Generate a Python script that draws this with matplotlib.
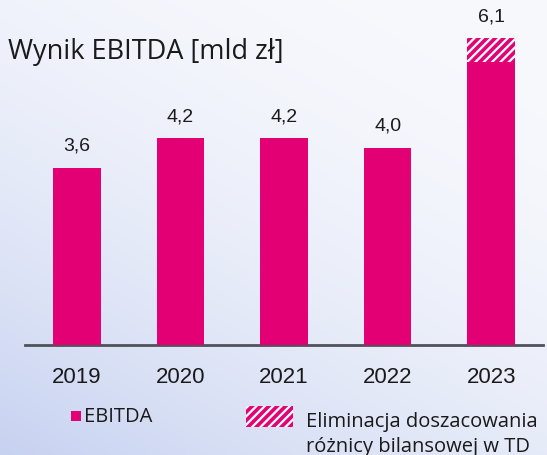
import numpy as np
import matplotlib
matplotlib.use("Agg")
import matplotlib.pyplot as plt
from matplotlib.patches import Rectangle

# Data
years = ["2019", "2020", "2021", "2022", "2023"]
ebitda = [3.6, 4.2, 4.2, 4.0, 5.75]
elimination = [0.0, 0.0, 0.0, 0.0, 0.48]
value_labels = ["3,6", "4,2", "4,2", "4,0", "6,1"]

MAGENTA = "#e20074"
AXIS_GREY = "#50515a"

plt.rcParams.update({
    "font.family": ["Liberation Sans", "DejaVu Sans"],
    "hatch.linewidth": 2.6,
})

fig = plt.figure(figsize=(5.47, 4.56), dpi=100)

# background gradient: near white at top right, light blue at bottom left
bg = fig.add_axes([0, 0, 1, 1], zorder=-10)
h, w = 228, 274
yy, xx = np.mgrid[0:h, 0:w]
t = np.clip((yy / (h - 1)) * 0.6 + (1 - xx / (w - 1)) * 0.4, 0, 1) ** 2
top = np.array([248, 249, 253]) / 255
bottom = np.array([199, 210, 241]) / 255
img = top[None, None, :] * (1 - t[..., None]) + bottom[None, None, :] * t[..., None]
bg.imshow(img, aspect="auto", extent=[0, 1, 0, 1], origin="upper")
bg.set_axis_off()

ax = fig.add_axes([25 / 547, 110 / 456, 518 / 547, 325 / 456])
ax.patch.set_alpha(0)

x = np.arange(len(years))
ax.bar(x, ebitda, width=0.46, color=MAGENTA, linewidth=0, zorder=3)
ax.bar(x, elimination, width=0.46, bottom=ebitda, facecolor="white",
       edgecolor=MAGENTA, hatch="////", linewidth=0, zorder=3)

totals = np.array(ebitda) + np.array(elimination)
for xi, tot, lab in zip(x, totals, value_labels):
    ax.annotate(lab, (xi, tot), xytext=(0, 13), textcoords="offset points",
                ha="center", va="baseline", fontsize=14, color="#1a1a1a")

ax.set_xlim(-0.5, len(years) - 0.5)
ax.set_ylim(0, 6.6)
ax.set_xticks(x)
ax.set_xticklabels(years, fontsize=16, color="#1a1a1a")
ax.tick_params(axis="x", length=0, pad=15)
ax.set_yticks([])
for side in ["top", "right", "left"]:
    ax.spines[side].set_visible(False)
ax.spines["bottom"].set_color(AXIS_GREY)
ax.spines["bottom"].set_linewidth(2)

# title
fig.text(8 / 547, 1 - 59 / 456, "Wynik EBITDA [mld zł]", fontsize=19.5,
         family=["Open Sans", "DejaVu Sans"], color="#1a1a1a",
         ha="left", va="baseline")

# legend, drawn by hand
fig.patches.append(Rectangle((71 / 547, 1 - 422 / 456), 10 / 547, 10 / 456,
                             transform=fig.transFigure, facecolor=MAGENTA,
                             linewidth=0))
fig.text(84 / 547, 1 - 417.5 / 456, "EBITDA", fontsize=14.5,
         family=["Open Sans", "DejaVu Sans"], color="#1a1a1a",
         ha="left", va="center")
fig.patches.append(Rectangle((246 / 547, 1 - 428 / 456), 47 / 547, 21 / 456,
                             transform=fig.transFigure, facecolor="white",
                             edgecolor=MAGENTA, hatch="////", linewidth=0))
fig.text(306 / 547, 1 - 427 / 456, "Eliminacja doszacowania", fontsize=14.5,
         family=["Open Sans", "DejaVu Sans"], color="#1a1a1a",
         ha="left", va="baseline")
fig.text(306 / 547, 1 - 452 / 456, "różnicy bilansowej w TD", fontsize=14.5,
         family=["Open Sans", "DejaVu Sans"], color="#1a1a1a",
         ha="left", va="baseline")

fig.savefig("out.png", dpi=100)
